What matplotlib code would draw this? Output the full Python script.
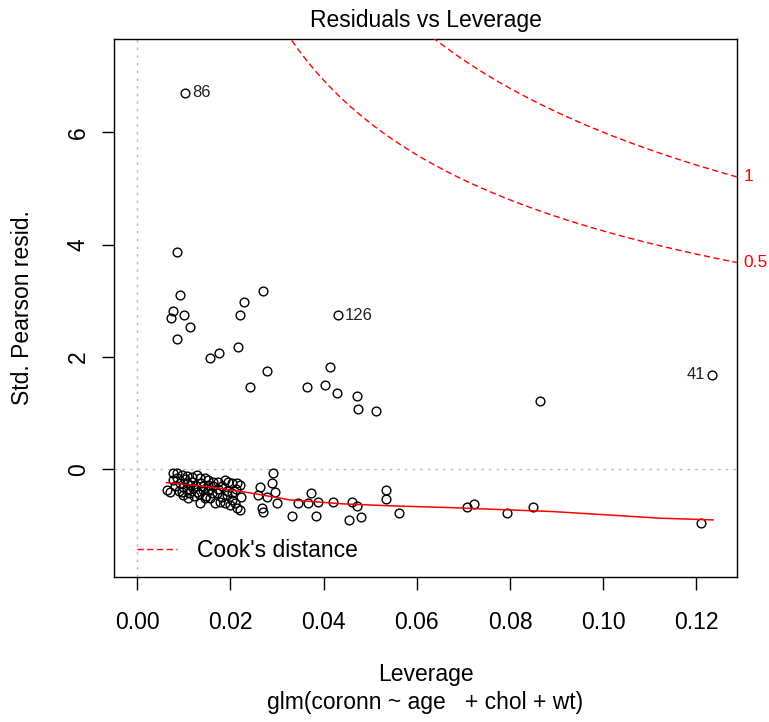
import numpy as np
import matplotlib.pyplot as plt

plt.rcParams['font.family'] = ['Liberation Sans', 'DejaVu Sans']

# leverage (hat values) and standardized pearson residuals
# first three points are the labelled ones
leverage = [0.01026, 0.04303, 0.12335,
            # positive residuals
            0.00861, 0.00918, 0.00762, 0.00725, 0.01011, 0.01133, 0.00861,
            0.01562, 0.01755, 0.02170, 0.02206, 0.02285, 0.02706, 0.02792,
            0.02421, 0.04144, 0.03650, 0.04030, 0.04281, 0.04710, 0.04732,
            0.05131, 0.08644,
            # dense cluster below zero
            0.00762, 0.00848, 0.00955, 0.01062, 0.01170, 0.01277, 0.01348,
            0.01455, 0.01526, 0.01633, 0.01740, 0.01884, 0.01955, 0.02028,
            0.02135, 0.02206,
            0.00633, 0.00704, 0.00989, 0.01097, 0.01348, 0.01455, 0.01562,
            0.01670, 0.01777, 0.01884, 0.01991, 0.02099, 0.02135, 0.02206,
            0.02028, 0.01921, 0.01813, 0.01706, 0.01599, 0.01526, 0.01418,
            0.01277, 0.01204, 0.01133, 0.01062, 0.00989,
            0.0076, 0.0081, 0.0086, 0.0089, 0.0093, 0.0097, 0.0102, 0.0107,
            0.0112, 0.0117, 0.0122, 0.0127, 0.0132, 0.0137, 0.0142, 0.0147,
            0.0152, 0.0163, 0.0173, 0.0183, 0.0193, 0.0203, 0.0213, 0.0224,
            # scattered negative residuals
            0.02635, 0.02599, 0.02779, 0.02921, 0.02886, 0.02957, 0.02994,
            0.02672, 0.02706, 0.03315, 0.03457, 0.03672, 0.03725, 0.03886,
            0.03837, 0.04208, 0.04603, 0.04710, 0.04545, 0.04796, 0.05333,
            0.05333, 0.05625, 0.07071, 0.07227, 0.07929, 0.08487, 0.12092]

std_resid = [6.700, 2.743, 1.679,
             3.865, 3.104, 2.825, 2.695, 2.743, 2.540, 2.315,
             1.977, 2.077, 2.183, 2.743, 2.980, 3.175, 1.751,
             1.471, 1.827, 1.471, 1.501, 1.364, 1.305, 1.069,
             1.038, 1.210,
             -0.071, -0.071, -0.102, -0.119, -0.132, -0.102, -0.160,
             -0.160, -0.191, -0.221, -0.221, -0.191, -0.221, -0.249,
             -0.249, -0.280,
             -0.369, -0.399, -0.458, -0.517, -0.595, -0.517, -0.517,
             -0.606, -0.577, -0.606, -0.636, -0.606, -0.695, -0.725,
             -0.547, -0.458, -0.488, -0.427, -0.427, -0.369, -0.369,
             -0.399, -0.338, -0.280, -0.249, -0.310,
             -0.20, -0.30, -0.15, -0.38, -0.25, -0.40, -0.18, -0.35,
             -0.42, -0.22, -0.48, -0.30, -0.45, -0.25, -0.30, -0.48,
             -0.28, -0.30, -0.35, -0.30, -0.38, -0.42, -0.35, -0.50,
             -0.310, -0.458, -0.488, -0.071, -0.244, -0.399, -0.600,
             -0.689, -0.755, -0.832, -0.595, -0.595, -0.419, -0.577,
             -0.832, -0.577, -0.577, -0.654, -0.903, -0.855, -0.369,
             -0.529, -0.773, -0.677, -0.618, -0.773, -0.677, -0.951]

point_ids = ['86', '126', '41']

# red smoother
smooth_lev = [0.00633, 0.01519, 0.02421, 0.03279, 0.04416, 0.05489,
              0.06712, 0.07571, 0.08923, 0.10082, 0.11219, 0.12356]
smooth_res = [-0.239, -0.310, -0.422, -0.547, -0.618, -0.654,
              -0.684, -0.712, -0.755, -0.814, -0.873, -0.903]

cook_levels = [0.5, 1]
n_coef = 4

xlim = (-0.00495, 0.1287)
ylim = (-1.92, 7.66)

fs = 16.5
cook_ls = (0, (4.5, 2.5))

W, H = 769, 722
fig = plt.figure(figsize=(W / 100, H / 100), dpi=100)
ax = fig.add_axes([114 / W, 1 - 577 / H, 623 / W, 538 / H])

ax.axhline(0, color='#bebebe', lw=1, ls=(0, (2, 3.5)), zorder=1)
ax.axvline(0, color='#bebebe', lw=1, ls=(0, (2, 3.5)), zorder=1)

ax.plot(leverage, std_resid, 'o', mfc='none', mec='black', ms=6.3, mew=1.0, zorder=2)
ax.plot(smooth_lev, smooth_res, color='red', lw=1.1, zorder=3)

# cook's distance contours
hh = np.linspace(min(min(leverage), max(leverage) / 100), xlim[1], 101)
for lev in cook_levels:
    cl = np.sqrt(lev * n_coef * (1 - hh) / hh)
    ax.plot(hh, cl, color='red', lw=1, ls=cook_ls, zorder=3)
    ax.plot(hh, -cl, color='red', lw=1, ls=cook_ls, zorder=3)
    yend = np.sqrt(lev * n_coef * (1 - xlim[1]) / xlim[1])
    ax.annotate('%g' % lev, xy=(xlim[1], yend), xytext=(4.5, 0),
                textcoords='offset points', ha='left', va='center',
                color='red', fontsize=12.5, annotation_clip=False)

# ids of the largest residuals
for i, name in enumerate(point_ids):
    off = -5 if name == '41' else 5
    ax.annotate(name, xy=(leverage[i], std_resid[i]), xytext=(off, 0),
                textcoords='offset points', ha='right' if off < 0 else 'left',
                va='center', fontsize=12, color='#222222')

ax.set_xlim(xlim)
ax.set_ylim(ylim)
ax.set_xticks([0, 0.02, 0.04, 0.06, 0.08, 0.10, 0.12])
ax.set_xticklabels(['0.00', '0.02', '0.04', '0.06', '0.08', '0.10', '0.12'])
ax.set_yticks([0, 2, 4, 6])
ax.set_yticklabels(['0', '2', '4', '6'], rotation=90, va='center')
ax.tick_params(axis='x', length=9, width=1, pad=15.5, labelsize=fs)
ax.tick_params(axis='y', length=9, width=1, pad=8.5, labelsize=fs)
for s in ax.spines.values():
    s.set_linewidth(1.0)

leg_line, = ax.plot([], [], color='red', lw=1, ls=cook_ls)
ax.legend([leg_line], ["Cook's distance"], loc='lower left', frameon=False,
          fontsize=fs, handlelength=1.75, handletextpad=0.85,
          borderaxespad=0, borderpad=0, bbox_to_anchor=(0.037, 0.028))

fig.text(425.5 / W, 1 - 21 / H, 'Residuals vs Leverage', ha='center', va='center', fontsize=fs)
fig.text(425.5 / W, 1 - 675 / H, 'Leverage', ha='center', va='center', fontsize=fs)
fig.text(425.5 / W, 1 - 703 / H, 'glm(coronn ~ age   + chol + wt)', ha='center', va='center', fontsize=fs)
fig.text(22.5 / W, 1 - 308 / H, 'Std. Pearson resid.', ha='center', va='center', rotation=90, fontsize=fs)

fig.savefig('out.png', dpi=100)
